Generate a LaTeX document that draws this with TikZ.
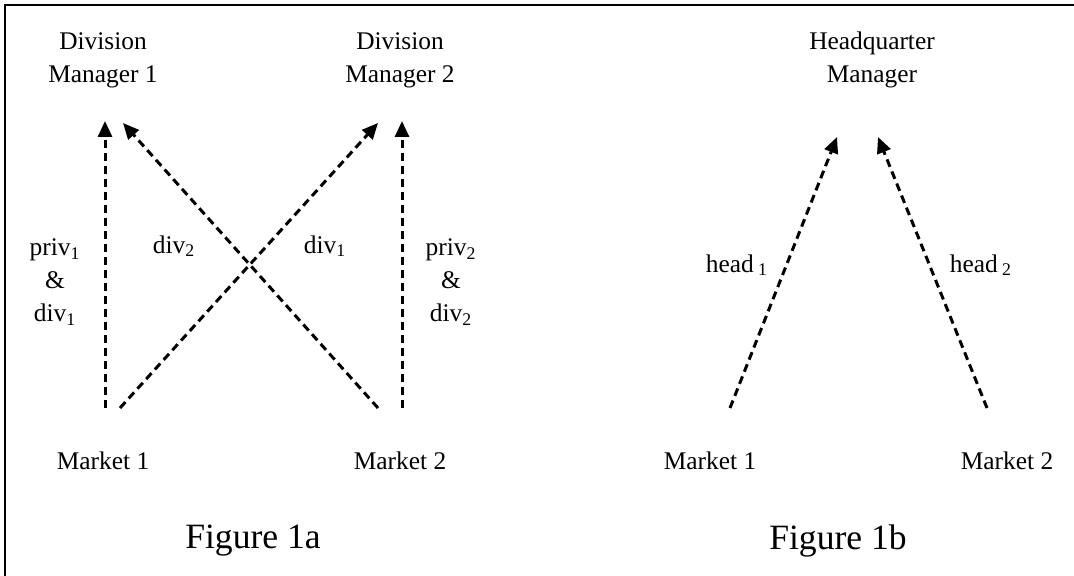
\documentclass[tikz,border=0pt]{standalone}
\usepackage{fontspec}
\setmainfont{Liberation Serif}
\usetikzlibrary{arrows.meta}
\tikzset{
	txt node/.style={font=\fontsize{12.7}{16.5}\selectfont, align=center, inner sep=0pt},
	fig node/.style={font=\fontsize{17.8}{22}\selectfont, inner sep=0pt},
	info arrow/.style={-{Triangle[length=8pt,width=7pt]}, dash pattern=on 4pt off 2.5pt, line width=1.5pt}
}

\begin{document}
\begin{tikzpicture}[x=0.5pt,y=-0.5pt]
	\useasboundingbox (0,0) rectangle (1074,576);
	\draw[line width=1pt] (1074,5) -- (5,5) -- (5,576);
	% Figure 1a
	\node [txt node] (dm1) at (103,60) {Division\\Manager 1};
	\node [txt node] (dm2) at (400,60) {Division\\Manager 2};
	\node [txt node] (m1) at (103,461) {Market 1};
	\node [txt node] (m2) at (400,461) {Market 2};
	\coordinate (t1) at (105,408);
	\coordinate (t2) at (120,408);
	\coordinate (t3) at (378,408);
	\coordinate (t4) at (402,408);
	\coordinate (h1) at (105,121);
	\coordinate (h2) at (123,123);
	\coordinate (h3) at (378,123);
	\coordinate (h4) at (402,121);
	\draw [info arrow] (t1) -- (h1);
	\draw [info arrow] (t2) -- (h3);
	\draw [info arrow] (t3) -- (h2);
	\draw [info arrow] (t4) -- (h4);
	\node [txt node] (l1) at (55,282) {priv\textsubscript{1}\\\&\\div\textsubscript{1}};
	\node [txt node] (l2) at (174,246) {div\textsubscript{2}};
	\node [txt node] (l3) at (325,246) {div\textsubscript{1}};
	\node [txt node] (l4) at (451,282) {priv\textsubscript{2}\\\&\\div\textsubscript{2}};
	\node [fig node] (fa) at (253,541) {Figure 1a};
	% Figure 1b
	\node [txt node] (hq) at (872,60) {Headquarter\\Manager};
	\node [txt node] (m3) at (710,461) {Market 1};
	\node [txt node] (m4) at (1007,461) {Market 2};
	\coordinate (t5) at (730,408);
	\coordinate (t6) at (987,408);
	\coordinate (h5) at (837,137);
	\coordinate (h6) at (878,137);
	\draw [info arrow] (t5) -- (h5);
	\draw [info arrow] (t6) -- (h6);
	\node [txt node] (l5) at (737,265) {head\,\textsubscript{1}};
	\node [txt node] (l6) at (981,265) {head\,\textsubscript{2}};
	\node [fig node] (fb) at (838,541) {Figure 1b};
\end{tikzpicture}
\end{document}
